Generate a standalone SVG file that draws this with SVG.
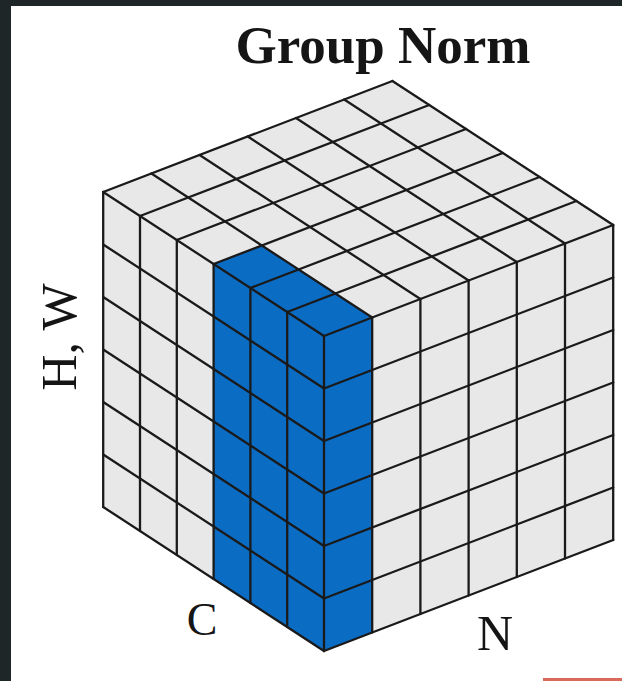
<svg xmlns="http://www.w3.org/2000/svg" width="622" height="681" viewBox="0 0 622 681">
  <style>
    .grid { stroke: #1a1a1a; stroke-width: 2.3; stroke-linecap: round; fill: none; }
    .white { fill: #e8e8e8; }
    .blue { fill: #0b6cc4; }
    .lbl { font-family: "Liberation Serif", "Times New Roman", serif; fill: #151515; }
  </style>
  <rect x="0" y="0" width="622" height="681" fill="#1e2628"/>
  <rect x="11" y="6" width="611" height="675" fill="#ffffff"/>
  <rect x="543" y="678" width="79" height="3" fill="#d9695a"/>

  <g id="title">
    <text class="lbl" x="383" y="63" font-size="53" font-weight="bold" text-anchor="middle">Group Norm</text>
  </g>

  <g id="cube">
    <g id="faces">
      <polygon class="white" points="213.6,579 103.2,507 103.2,192 213.6,264"/>
      <polygon class="blue" points="324,651 213.6,579 213.6,264 324,336"/>
      <polygon class="blue" points="324,651 372.2,632.5 372.2,317.5 324,336"/>
      <polygon class="white" points="372.2,632.5 613.2,540 613.2,225 372.2,317.5"/>
      <polygon class="white" points="324,336 103.2,192 392.4,81 613.2,225"/>
      <polygon class="blue" points="324,336 213.6,264 261.8,245.5 372.2,317.5"/>
    </g>
    <g id="grid-lines" class="grid">
      <!-- left face verticals -->
      <line x1="324" y1="651" x2="324" y2="336"/>
      <line x1="287.2" y1="627" x2="287.2" y2="312"/>
      <line x1="250.4" y1="603" x2="250.4" y2="288"/>
      <line x1="213.6" y1="579" x2="213.6" y2="264"/>
      <line x1="176.8" y1="555" x2="176.8" y2="240"/>
      <line x1="140" y1="531" x2="140" y2="216"/>
      <line x1="103.2" y1="507" x2="103.2" y2="192"/>
      <!-- left face horizontals -->
      <line x1="324" y1="651" x2="103.2" y2="507"/>
      <line x1="324" y1="598.5" x2="103.2" y2="454.5"/>
      <line x1="324" y1="546" x2="103.2" y2="402"/>
      <line x1="324" y1="493.5" x2="103.2" y2="349.5"/>
      <line x1="324" y1="441" x2="103.2" y2="297"/>
      <line x1="324" y1="388.5" x2="103.2" y2="244.5"/>
      <!-- right face verticals -->
      <line x1="372.2" y1="632.5" x2="372.2" y2="317.5"/>
      <line x1="420.4" y1="614" x2="420.4" y2="299"/>
      <line x1="468.6" y1="595.5" x2="468.6" y2="280.5"/>
      <line x1="516.8" y1="577" x2="516.8" y2="262"/>
      <line x1="565" y1="558.5" x2="565" y2="243.5"/>
      <line x1="613.2" y1="540" x2="613.2" y2="225"/>
      <!-- right face horizontals -->
      <line x1="324" y1="651" x2="613.2" y2="540"/>
      <line x1="324" y1="598.5" x2="613.2" y2="487.5"/>
      <line x1="324" y1="546" x2="613.2" y2="435"/>
      <line x1="324" y1="493.5" x2="613.2" y2="382.5"/>
      <line x1="324" y1="441" x2="613.2" y2="330"/>
      <line x1="324" y1="388.5" x2="613.2" y2="277.5"/>
      <!-- top face: constant c -->
      <line x1="324" y1="336" x2="613.2" y2="225"/>
      <line x1="287.2" y1="312" x2="576.4" y2="201"/>
      <line x1="250.4" y1="288" x2="539.6" y2="177"/>
      <line x1="213.6" y1="264" x2="502.8" y2="153"/>
      <line x1="176.8" y1="240" x2="466" y2="129"/>
      <line x1="140" y1="216" x2="429.2" y2="105"/>
      <line x1="103.2" y1="192" x2="392.4" y2="81"/>
      <!-- top face: constant n -->
      <line x1="324" y1="336" x2="103.2" y2="192"/>
      <line x1="372.2" y1="317.5" x2="151.4" y2="173.5"/>
      <line x1="420.4" y1="299" x2="199.6" y2="155"/>
      <line x1="468.6" y1="280.5" x2="247.8" y2="136.5"/>
      <line x1="516.8" y1="262" x2="296" y2="118"/>
      <line x1="565" y1="243.5" x2="344.2" y2="99.5"/>
      <line x1="613.2" y1="225" x2="392.4" y2="81"/>
    </g>
  </g>

  <g id="axis-labels">
    <text class="lbl" font-size="50" text-anchor="middle" transform="translate(76,337) rotate(-90)">H, W</text>
    <text class="lbl" x="202" y="635" font-size="46" text-anchor="middle">C</text>
    <text class="lbl" x="495" y="650" font-size="50" text-anchor="middle">N</text>
  </g>
</svg>
